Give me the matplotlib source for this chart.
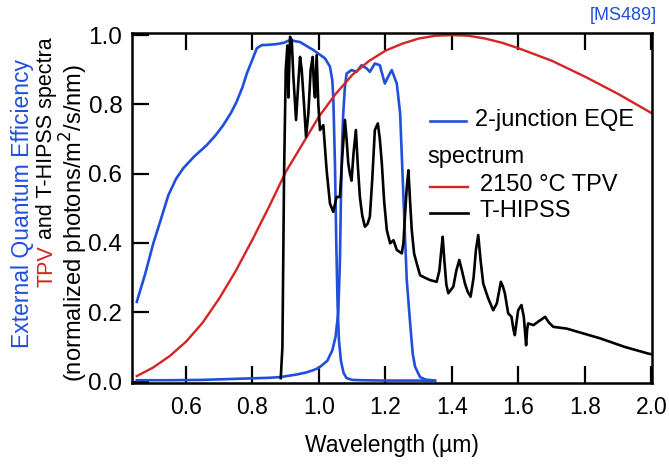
import matplotlib
matplotlib.use("Agg")
import matplotlib.pyplot as plt
from matplotlib.lines import Line2D

plt.rcParams['font.family'] = ['Liberation Sans', 'DejaVu Sans']

# ---------------- data ----------------
eqe_top_wl = [0.452, 0.477, 0.502, 0.527, 0.547, 0.570, 0.592, 0.625, 0.662, 0.690,
              0.712, 0.735, 0.752, 0.770, 0.783, 0.800, 0.813, 0.828, 0.850, 0.873,
              0.895, 0.913, 0.930, 0.943, 0.960, 0.983, 1.000, 1.018, 1.033, 1.040,
              1.043, 1.048, 1.052, 1.056, 1.060, 1.066, 1.074, 1.083, 1.100, 1.130,
              1.200, 1.300, 1.349]
eqe_top = [0.23, 0.31, 0.40, 0.476, 0.538, 0.585, 0.616, 0.650, 0.682, 0.712,
           0.74, 0.775, 0.807, 0.85, 0.889, 0.93, 0.962, 0.971, 0.972, 0.974,
           0.978, 0.986, 0.982, 0.98, 0.97, 0.957, 0.945, 0.933, 0.909, 0.87,
           0.82, 0.63, 0.40, 0.22, 0.12, 0.06, 0.025, 0.01, 0.005, 0.004,
           0.003, 0.003, 0.002]

eqe_bot_wl = [0.452, 0.55, 0.65, 0.75, 0.85, 0.883, 0.93, 0.96, 0.983, 1.000,
              1.025, 1.040, 1.050, 1.058, 1.063, 1.066, 1.070, 1.073, 1.078, 1.083,
              1.098, 1.113, 1.128, 1.143, 1.153, 1.168, 1.183, 1.198, 1.208, 1.219,
              1.234, 1.244, 1.254, 1.264, 1.274, 1.282, 1.289, 1.304, 1.320, 1.349]
eqe_bot = [0.004, 0.004, 0.005, 0.008, 0.011, 0.013, 0.02, 0.026, 0.033, 0.04,
           0.06, 0.09, 0.13, 0.2, 0.35, 0.53, 0.70, 0.775, 0.85, 0.889,
           0.899, 0.894, 0.913, 0.904, 0.894, 0.918, 0.913, 0.86, 0.88, 0.899,
           0.86, 0.775, 0.533, 0.293, 0.17, 0.08, 0.043, 0.013, 0.006, 0.003]

tpv_wl = [0.452, 0.50, 0.55, 0.60, 0.65, 0.70, 0.75, 0.80, 0.85, 0.90,
          0.95, 1.00, 1.05, 1.10, 1.15, 1.20, 1.25, 1.30, 1.35, 1.40,
          1.45, 1.50, 1.55, 1.60, 1.70, 1.80, 1.90, 2.00]
tpv = [0.016, 0.040, 0.073, 0.115, 0.170, 0.240, 0.320, 0.410, 0.505, 0.605,
       0.685, 0.765, 0.830, 0.885, 0.925, 0.955, 0.975, 0.990, 0.998, 1.0,
       0.998, 0.99, 0.978, 0.962, 0.926, 0.88, 0.83, 0.775]

thipss_wl = [0.885, 0.890, 0.895, 0.900, 0.905, 0.908, 0.913, 0.918, 0.923, 0.931,
             0.937, 0.943, 0.948, 0.955, 0.961, 0.968, 0.975, 0.981, 0.985, 0.988,
             0.993, 0.998, 1.003, 1.013, 1.023, 1.033, 1.043, 1.053, 1.063, 1.070,
             1.078, 1.083, 1.088, 1.093, 1.098, 1.104, 1.111, 1.117, 1.123, 1.130,
             1.138, 1.146, 1.153, 1.160, 1.168, 1.177, 1.183, 1.189, 1.196, 1.204,
             1.214, 1.224, 1.234, 1.249, 1.254, 1.259, 1.264, 1.269, 1.274, 1.279,
             1.286, 1.294, 1.304, 1.314, 1.334, 1.354, 1.362, 1.368, 1.372, 1.377,
             1.383, 1.389, 1.404, 1.413, 1.422, 1.430, 1.439, 1.447, 1.456, 1.465,
             1.472, 1.479, 1.486, 1.494, 1.509, 1.524, 1.535, 1.547, 1.553, 1.559,
             1.569, 1.579, 1.585, 1.589, 1.594, 1.599, 1.609, 1.616, 1.620, 1.623,
             1.626, 1.629, 1.645, 1.659, 1.670, 1.680, 1.692, 1.705, 1.745, 1.845,
             1.920, 1.990, 2.000]
thipss = [0.01, 0.10, 0.60, 0.90, 0.97, 0.82, 0.995, 0.985, 0.88, 0.755,
          0.85, 0.937, 0.90, 0.80, 0.706, 0.774, 0.90, 0.937, 0.85, 0.82,
          0.942, 0.80, 0.726, 0.74, 0.61, 0.514, 0.49, 0.533, 0.533, 0.65,
          0.755, 0.70, 0.63, 0.60, 0.58, 0.66, 0.726, 0.62, 0.533, 0.48,
          0.447, 0.455, 0.476, 0.58, 0.726, 0.745, 0.70, 0.63, 0.52, 0.437,
          0.399, 0.408, 0.38, 0.37, 0.40, 0.485, 0.56, 0.61, 0.52, 0.437,
          0.37, 0.341, 0.307, 0.302, 0.293, 0.288, 0.32, 0.38, 0.418, 0.35,
          0.28, 0.255, 0.274, 0.32, 0.351, 0.32, 0.283, 0.26, 0.245, 0.30,
          0.38, 0.423, 0.35, 0.283, 0.24, 0.206, 0.226, 0.288, 0.275, 0.255,
          0.197, 0.187, 0.15, 0.134, 0.17, 0.206, 0.221, 0.187, 0.14, 0.105,
          0.15, 0.168, 0.163, 0.173, 0.18, 0.187, 0.17, 0.158, 0.153, 0.125,
          0.10, 0.081, 0.079]

x_ticks = [0.6, 0.8, 1.0, 1.2, 1.4, 1.6, 1.8, 2.0]
y_ticks = [0.0, 0.2, 0.4, 0.6, 0.8, 1.0]

BLUE = '#1f4fdc'
RED = '#d42424'
BLACK = '#000000'

W, H = 669, 466
fig = plt.figure(figsize=(W / 100, H / 100), dpi=100)
ax = fig.add_axes([132 / W, 1 - 383 / H, (652 - 132) / W, (383 - 33) / H])

ax.plot(eqe_bot_wl, eqe_bot, color=BLUE, lw=1.9)
ax.plot(eqe_top_wl, eqe_top, color=BLUE, lw=1.9)
ax.plot(tpv_wl, tpv, color=RED, lw=1.7)
ax.plot(thipss_wl, thipss, color=BLACK, lw=1.9)

ax.set_xlim(0.4376, 2.0016)
ax.set_ylim(-0.004, 1.006)
ax.set_xticks(x_ticks)
ax.set_xticklabels([f"{v:.1f}" for v in x_ticks])
ax.set_yticks(y_ticks)
ax.set_yticklabels([f"{v:.1f}" for v in y_ticks])
ax.tick_params(axis='x', direction='in', length=12, width=1.6, top=True,
               labelsize=16.5, pad=9)
ax.tick_params(axis='y', direction='in', length=12, width=1.6, right=False,
               labelsize=17.5, pad=7)
for s in ax.spines.values():
    s.set_linewidth(1.8)

ax.set_xlabel("Wavelength (µm)", fontsize=16.5, labelpad=11)

def fx(px):
    return px / W

def fy(py):
    return 1 - py / H

# legend (manual)
fs = 17
fig.add_artist(Line2D([fx(430), fx(466)], [fy(121), fy(121)], color=BLUE, lw=1.9))
fig.text(fx(475), fy(120), "2-junction EQE", fontsize=fs, va='center', ha='left')
fig.text(fx(427), fy(157), "spectrum", fontsize=fs, va='center', ha='left')
fig.add_artist(Line2D([fx(430), fx(468)], [fy(187), fy(187)], color=RED, lw=1.7))
fig.text(fx(480), fy(185), "2150 °C TPV", fontsize=fs, va='center', ha='left')
fig.add_artist(Line2D([fx(430), fx(468)], [fy(213), fy(213)], color=BLACK, lw=1.9))
fig.text(fx(480), fy(211), "T-HIPSS", fontsize=fs, va='center', ha='left')

fig.text(fx(657), fy(16), "[MS489]", fontsize=13, color=BLUE, ha='right', va='center')

# y label, three lines
fig.text(fx(22), fy(348), "External Quantum Efficiency", color=BLUE, fontsize=16.5,
         rotation=90, rotation_mode='anchor', ha='left', va='center')
fs2 = 15.5
full = "TPV and T-HIPSS spectra"
probe = fig.text(fx(47), fy(287), full, fontsize=fs2, rotation=90,
                 rotation_mode='anchor', ha='left', va='center', alpha=0)
fig.canvas.draw()
bb = probe.get_window_extent(fig.canvas.get_renderer())
length = bb.height
fig.text(fx(47), fy(287), "TPV", color=RED, fontsize=fs2, rotation=90,
         rotation_mode='anchor', ha='left', va='center')
fig.text(fx(47), fy(287) + length / H, " and T-HIPSS spectra", color=BLACK,
         fontsize=fs2, rotation=90, rotation_mode='anchor', ha='right', va='center')
fig.text(fx(74), fy(382), "(normalized photons/m$^2$/s/nm)", color=BLACK, fontsize=fs,
         rotation=90, rotation_mode='anchor', ha='left', va='center')

fig.savefig("out.png", dpi=100)
